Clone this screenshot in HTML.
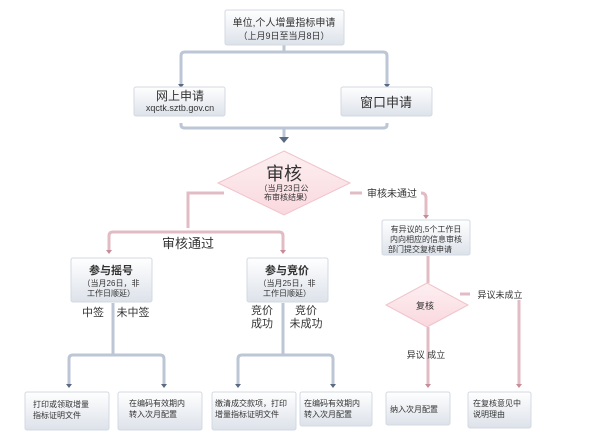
<!DOCTYPE html>
<html><head><meta charset="utf-8"><style>
html,body{margin:0;padding:0;background:#fff;}
svg{display:block;font-family:"Liberation Sans","Noto Sans CJK SC",sans-serif;}
</style></head><body>
<svg width="606" height="438" viewBox="0 0 606 438" xmlns="http://www.w3.org/2000/svg">
<defs>
<linearGradient id="g" x1="0" y1="0" x2="0" y2="1"><stop offset="0" stop-color="#ffffff"/><stop offset="1" stop-color="#dde2ea"/></linearGradient>
<linearGradient id="p" x1="0" y1="0" x2="0" y2="1"><stop offset="0" stop-color="#fdf0f2"/><stop offset="1" stop-color="#f9d8de"/></linearGradient>
</defs>
<g fill="none" stroke="#bcc6d4" stroke-width="3">
<path d="M284 45 V52 M181 84 V56 Q181 52 185 52 H383 Q387 52 387 56 V84"/>
<path d="M181 123 V125 Q181 128 185 128 H383 Q387 128 387 125 V123 M284 128 V137"/>
<path d="M113 303 V355 M69 384 V359 Q69 355 73 355 H160 Q164 355 164 359 V384"/>
<path d="M283 303 V355 M238 384 V359 Q238 355 242 355 H329 Q333 355 333 359 V384"/>
</g>
<g fill="none" stroke="#e2bcc4" stroke-width="3">
<path d="M224 193 H188 V228 M109 250 V236 Q109 232 113 232 H279 Q283 232 283 236 V250"/>
<path d="M350 193 H362 M421 193 Q426 193 426 198 V215"/>
<path d="M428 256 V283 M428 327 V384 M460 294 H470 M519 300 V384"/>
</g>
<g fill="#5a6a80"><path d="M279 137 L289 137 L284 143Z"/><path d="M178 84 L184 84 L181 88Z"/><path d="M384 84 L390 84 L387 88Z"/>
<path d="M66 384 L72 384 L69 388Z"/><path d="M161 384 L167 384 L164 388Z"/><path d="M235 384 L241 384 L238 388Z"/><path d="M330 384 L336 384 L333 388Z"/></g>
<g fill="#c88c98"><path d="M106 250 L112 250 L109 254Z"/><path d="M280 250 L286 250 L283 254Z"/><path d="M423 215 L429 215 L426 219Z"/><path d="M425 384 L431 384 L428 388Z"/><path d="M516 384 L522 384 L519 388Z"/></g>
<g fill="url(#g)" stroke="#d3d9e2">
<rect x="225" y="10" width="119" height="35" rx="2"/>
<rect x="134" y="87" width="91" height="29" rx="2"/>
<rect x="341" y="87" width="91" height="29" rx="2"/>
<rect x="71" y="258" width="81" height="44" rx="2"/>
<rect x="247" y="258" width="81" height="44" rx="2"/>
<rect x="382" y="220" width="88" height="35" rx="2"/>
<rect x="25" y="392" width="84" height="38" rx="2"/>
<rect x="118" y="392" width="84" height="38" rx="2"/>
<rect x="212" y="392" width="84" height="38" rx="2"/>
<rect x="300" y="392" width="72" height="34" rx="2"/>
<rect x="386" y="392" width="64" height="33" rx="2"/>
<rect x="468" y="392" width="63" height="36" rx="2"/>
</g>
<g fill="url(#p)" stroke="#f0c4cc">
<path d="M284 151 L350 183 L284 215 L218 183Z"/>
<path d="M427 283 L468 305 L427 327 L386 305Z"/>
</g>
<g fill="#333" font-size="10" text-anchor="middle">
<text x="284" y="26" font-size="10">单位,个人增量指标申请</text>
<text x="284" y="39" font-size="9">（上月9日至当月8日）</text>
<text x="180" y="100" font-size="12">网上申请</text>
<text x="180" y="111" font-size="9">xqctk.sztb.gov.cn</text>
<text x="386" y="107" font-size="13">窗口申请</text>
<text x="284" y="180" font-size="18">审核</text>
<text x="284" y="191" font-size="8">（当月23日公</text>
<text x="288" y="200" font-size="8">布审核结果）</text>
<text x="392" y="197" font-size="10">审核未通过</text>
<text x="188" y="248" font-size="13">审核通过</text>
<text x="111" y="274" font-size="11" font-weight="bold">参与摇号</text>
<text x="111" y="286" font-size="8">（当月26日，非</text>
<text x="111" y="296" font-size="8">工作日顺延）</text>
<text x="287" y="274" font-size="11" font-weight="bold">参与竞价</text>
<text x="287" y="286" font-size="8">（当月25日，非</text>
<text x="287" y="296" font-size="8">工作日顺延）</text>
<text x="93" y="316" font-size="11">中签</text>
<text x="133" y="316" font-size="11">未中签</text>
<text x="262" y="314" font-size="11">竞价</text>
<text x="262" y="327" font-size="11">成功</text>
<text x="306" y="314" font-size="11">竞价</text>
<text x="306" y="327" font-size="11">未成功</text>
<text x="426" y="232" font-size="8">有异议的,5个工作日</text>
<text x="426" y="242" font-size="8">内向相应的信息审核</text>
<text x="420" y="252" font-size="8">部门提交复核申请</text>
<text x="425" y="309" font-size="9">复核</text>
<text x="500" y="298" font-size="9">异议未成立</text>
<text x="426" y="358" font-size="9">异议 成立</text>
</g>
<g fill="#333" font-size="8">
<text x="33" y="407">打印或领取增量</text><text x="33" y="418">指标证明文件</text>
<text x="129" y="406">在编码有效期内</text><text x="129" y="417">转入次月配置</text>
<text x="215" y="406">缴清成交款项，打印</text><text x="215" y="417">增量指标证明文件</text>
<text x="304" y="406">在编码有效期内</text><text x="304" y="417">转入次月配置</text>
<text x="390" y="412">纳入次月配置</text>
<text x="473" y="406">在复核意见中</text><text x="473" y="417">说明理由</text>
</g>
</svg>
</body></html>
